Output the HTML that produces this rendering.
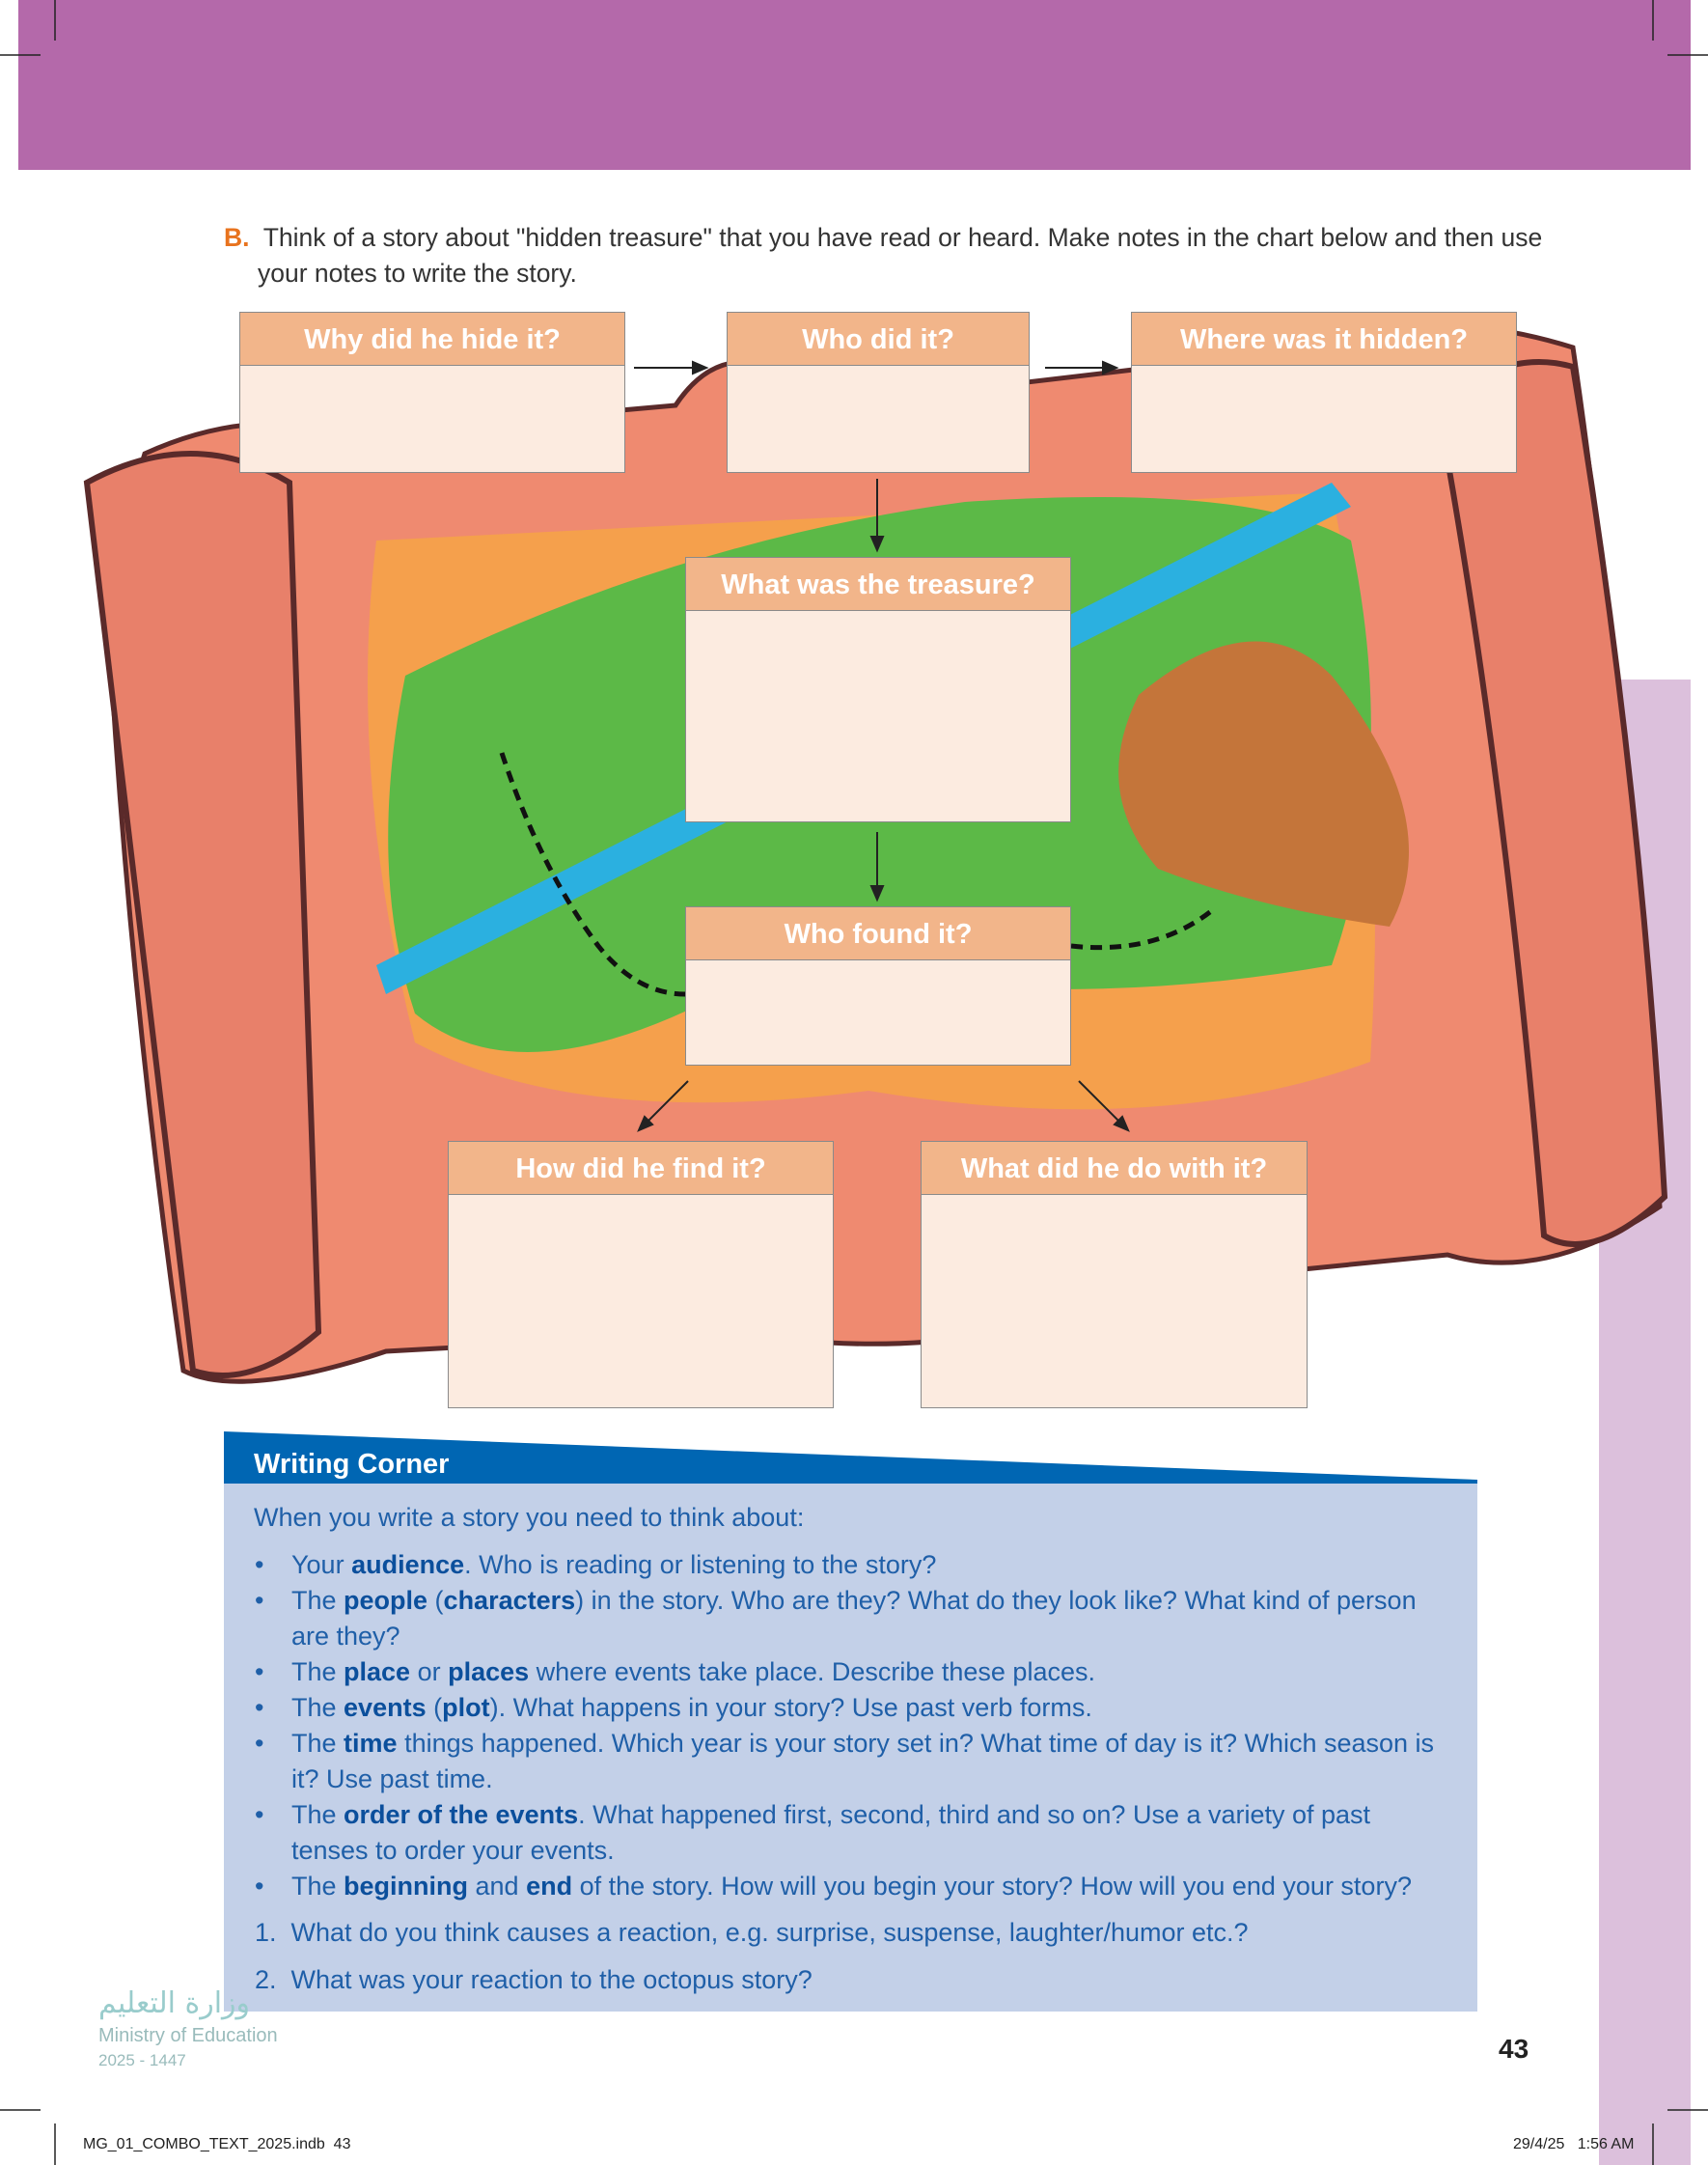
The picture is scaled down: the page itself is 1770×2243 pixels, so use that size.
<!DOCTYPE html>
<html><head><meta charset="utf-8"><style>
body{margin:0;width:1770px;height:2243px;position:relative;background:#fff;overflow:hidden;font-family:"Liberation Sans",sans-serif}
.a{position:absolute}
.box{position:absolute;background:#fcebe0;border:1.5px solid #8a8a8a;box-sizing:border-box}
.box .h{height:54px;background:#f2b58a;border-bottom:1.5px solid #8a8a8a;color:#fff;font-weight:bold;font-size:29px;text-align:center;line-height:56px}
.wc{color:#1f5fa8;font-size:27px;line-height:37px}
.wc b{color:#0b4f9c}
.li{position:absolute;left:302px;width:1230px}
.bu{position:absolute;left:264px}
</style></head><body>
<div class="a" style="left:19px;top:0;width:1733px;height:176px;background:#b469aa"></div>
<div class="a" style="left:1657px;top:704px;width:95px;height:1539px;background:#dcc0dc"></div>
<svg class="a" style="left:0;top:0" width="1770" height="2243">
<g stroke="#222" stroke-width="1.5">
<line x1="57" y1="0" x2="57" y2="42"/><line x1="0" y1="57" x2="42" y2="57"/>
<line x1="1713" y1="0" x2="1713" y2="42"/><line x1="1728" y1="57" x2="1770" y2="57"/>
<line x1="57" y1="2200" x2="57" y2="2243"/><line x1="0" y1="2186" x2="42" y2="2186"/>
<line x1="1713" y1="2200" x2="1713" y2="2243"/><line x1="1728" y1="2186" x2="1770" y2="2186"/>
</g>
<!-- scroll -->
<path d="M150 470 Q260 420 360 450 L700 420 Q760 330 860 420 L1200 380 Q1440 300 1630 360 Q1680 700 1720 1250 Q1600 1330 1500 1300 L1200 1330 Q1000 1420 760 1380 L400 1400 Q250 1450 190 1420 Q130 1000 110 600 Z" fill="#ef8a70" stroke="#5a2a2a" stroke-width="5"/>
<path d="M90 500 Q200 440 300 500 L330 1380 Q260 1440 200 1420 Q150 1000 90 500 Z" fill="#e8806a" stroke="#5a2a2a" stroke-width="6"/>
<path d="M1490 420 Q1560 360 1630 380 Q1700 800 1725 1240 Q1650 1310 1600 1280 Q1560 800 1490 420 Z" fill="#e8806a" stroke="#5a2a2a" stroke-width="6"/>
<path d="M390 560 L1380 510 Q1440 800 1420 1100 Q1200 1180 900 1130 Q600 1170 430 1080 Q360 800 390 560 Z" fill="#f5a04c"/>
<path d="M420 700 Q700 560 1000 520 Q1300 500 1400 560 Q1450 800 1380 1000 Q1100 1050 800 1000 Q550 1150 430 1050 Q380 900 420 700 Z" fill="#5cb947"/>
<path d="M1180 720 Q1300 620 1380 700 Q1500 850 1440 960 Q1300 940 1200 900 Q1130 820 1180 720 Z" fill="#c4753a"/>
<path d="M390 1000 L1380 500 L1400 525 L400 1030 Z" fill="#2bb0e0"/>
<path d="M520 780 Q560 900 620 980 Q660 1030 710 1030 M1110 980 Q1200 990 1260 940" fill="none" stroke="#111" stroke-width="5" stroke-dasharray="12 8"/>
<!-- arrows -->
<g stroke="#222" stroke-width="2" fill="#222">
<line x1="657" y1="381" x2="725" y2="381"/><polygon points="732,381 718,375 718,387"/>
<line x1="1083" y1="381" x2="1150" y2="381"/><polygon points="1157,381 1143,375 1143,387"/>
<line x1="909" y1="496" x2="909" y2="563"/><polygon points="909,570 903,556 915,556"/>
<line x1="909" y1="862" x2="909" y2="925"/><polygon points="909,932 903,918 915,918"/>
<line x1="713" y1="1120" x2="668" y2="1165"/><polygon points="662,1171 668,1157 676,1165"/>
<line x1="1118" y1="1120" x2="1163" y2="1165"/><polygon points="1169,1171 1155,1165 1163,1157"/>
</g>
<path d="M232 1484 L1531 1534 L1531 1538 L232 1538 Z" fill="#0066b3"/>
<rect x="232" y="1537" width="1299" height="547" fill="#c3d0e8"/>
<path d="M232 1484 L1531 1534" stroke="#0066b3" stroke-width="2"/>
</svg>
<div class="a" style="left:232px;top:228px;font-size:26.5px;color:#333;line-height:37px;width:1420px"><span style="color:#e8731e;font-weight:bold">B.</span>&nbsp; Think of a story about "hidden treasure" that you have read or heard. Make notes in the chart below and then use<br><span style="padding-left:35px">your notes to write the story.</span></div>
<div class="box" style="left:248px;top:323px;width:400px;height:167px"><div class="h">Why did he hide it?</div></div>
<div class="box" style="left:753px;top:323px;width:314px;height:167px"><div class="h">Who did it?</div></div>
<div class="box" style="left:1172px;top:323px;width:400px;height:167px"><div class="h">Where was it hidden?</div></div>
<div class="box" style="left:710px;top:577px;width:400px;height:275px"><div class="h">What was the treasure?</div></div>
<div class="box" style="left:710px;top:939px;width:400px;height:165px"><div class="h">Who found it?</div></div>
<div class="box" style="left:464px;top:1182px;width:400px;height:277px"><div class="h">How did he find it?</div></div>
<div class="box" style="left:954px;top:1182px;width:401px;height:277px"><div class="h">What did he do with it?</div></div>
<div class="a" style="left:263px;top:1501px;color:#fff;font-weight:bold;font-size:29px">Writing Corner</div>
<div class="wc">
<div class="a" style="left:263px;top:1554px">When you write a story you need to think about:</div>
<div class="bu" style="top:1603px">•</div><div class="li" style="top:1603px">Your <b>audience</b>. Who is reading or listening to the story?</div>
<div class="bu" style="top:1640px">•</div><div class="li" style="top:1640px">The <b>people</b> (<b>characters</b>) in the story. Who are they? What do they look like? What kind of person<br>are they?</div>
<div class="bu" style="top:1714px">•</div><div class="li" style="top:1714px">The <b>place</b> or <b>places</b> where events take place. Describe these places.</div>
<div class="bu" style="top:1751px">•</div><div class="li" style="top:1751px">The <b>events</b> (<b>plot</b>). What happens in your story? Use past verb forms.</div>
<div class="bu" style="top:1788px">•</div><div class="li" style="top:1788px">The <b>time</b> things happened. Which year is your story set in? What time of day is it? Which season is<br>it? Use past time.</div>
<div class="bu" style="top:1862px">•</div><div class="li" style="top:1862px">The <b>order of the events</b>. What happened first, second, third and so on? Use a variety of past<br>tenses to order your events.</div>
<div class="bu" style="top:1936px">•</div><div class="li" style="top:1936px">The <b>beginning</b> and <b>end</b> of the story. How will you begin your story? How will you end your story?</div>
<div class="a" style="left:264px;top:1984px">1.&nbsp; What do you think causes a reaction, e.g. surprise, suspense, laughter/humor etc.?</div>
<div class="a" style="left:264px;top:2033px">2.&nbsp; What was your reaction to the octopus story?</div>
</div>
<div class="a" style="left:102px;top:2058px;font-size:30px;color:#9cc;font-family:'DejaVu Sans',sans-serif">وزارة التعليم</div>
<div class="a" style="left:102px;top:2098px;font-size:20px;color:#9bb">Ministry of Education</div>
<div class="a" style="left:102px;top:2125px;font-size:17px;color:#9bb">2025 - 1447</div>
<div class="a" style="left:1553px;top:2107px;font-size:28px;font-weight:bold;color:#222">43</div>
<div class="a" style="left:86px;top:2213px;font-size:16px;color:#222">MG_01_COMBO_TEXT_2025.indb&nbsp; 43</div>
<div class="a" style="left:1568px;top:2213px;font-size:16px;color:#222">29/4/25&nbsp;&nbsp; 1:56 AM</div>
</body></html>
